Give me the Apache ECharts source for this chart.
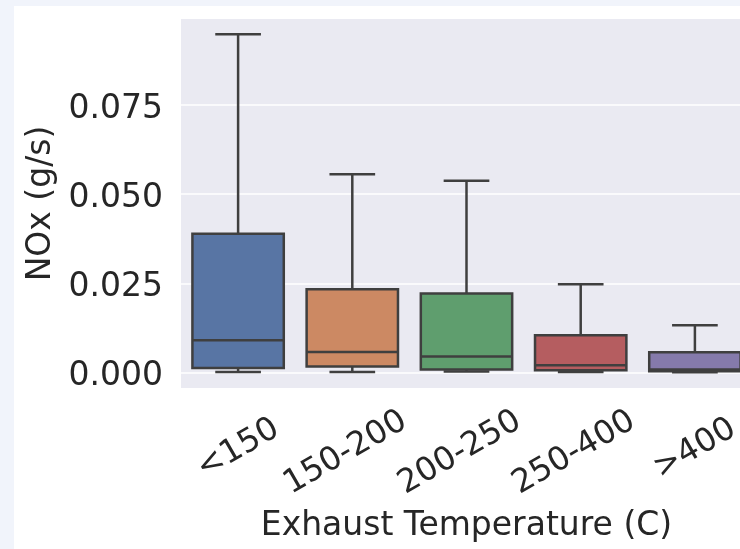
<!DOCTYPE html>
<html>
<head>
<meta charset="utf-8">
<script src="https://cdn.jsdelivr.net/npm/echarts@6/dist/echarts.min.js"></script>
<style>
  html, body { margin: 0; padding: 0; width: 740px; height: 549px; overflow: hidden; background: #F1F4FB; }
  #panel { position: absolute; left: 14px; top: 6px; right: 0; bottom: 0; background: #ffffff; }
  #chart { position: absolute; left: 0; top: 0; width: 740px; height: 549px; }
</style>
</head>
<body>
<div id="panel"></div>
<div id="chart"></div>
<script>
// ---- data ----
const categories = ['<150', '150-200', '200-250', '250-400', '>400'];
const whiskerLow = [0.0002, 0.0002, 0.0003, 0.0002, 0.0001];
const q1Values = [0.0013, 0.0017, 0.0009, 0.0007, 0.0004];
const medianValues = [0.0091, 0.0058, 0.0045, 0.0021, 0.0009];
const q3Values = [0.0389, 0.0234, 0.0222, 0.0105, 0.0057];
const whiskerHigh = [0.0948, 0.0556, 0.0538, 0.0248, 0.0133];
const boxColors = ['#5875A4', '#CC8963', '#5F9E6E', '#B55D60', '#857AAB'];
const yTicks = [0, 0.025, 0.05, 0.075];

const textColor = '#262626';
const edgeColor = '#3F3F3F';
const font = 'DejaVu Sans';

// plot range (value at bottom / top of the grey panel)
const yMin = -0.0043, yMax = 0.0991;
// tick axis range (multiples of the tick interval)
const tMin = -0.025, tMax = 0.1, tStep = 0.025;

const longLabel = (s) => s.length > 4;
const catData = categories.map(c => ({
  value: c,
  textStyle: Object.assign({ align: 'center', verticalAlign: 'middle' },
    longLabel(c) ? { padding: [27, 15.5, 0, 0] } : {})
}));

const seriesData = categories.map((c, i) => [i, whiskerLow[i], q1Values[i], medianValues[i], q3Values[i], whiskerHigh[i]]);

function renderBox(params, api) {
  const idx = api.value(0);
  const band = api.size([1, 0])[0];
  const bw = band * 0.8;
  const cw = band * 0.4;
  const pLow = api.coord([idx, api.value(1)]);
  const pQ1 = api.coord([idx, api.value(2)]);
  const pMed = api.coord([idx, api.value(3)]);
  const pQ3 = api.coord([idx, api.value(4)]);
  const pHigh = api.coord([idx, api.value(5)]);
  const x = pMed[0];
  const lw = 2.5;
  const lineStyle = { stroke: edgeColor, lineWidth: lw };
  return {
    type: 'group',
    children: [
      { type: 'line', shape: { x1: x, y1: pQ1[1], x2: x, y2: pLow[1] }, style: lineStyle },
      { type: 'line', shape: { x1: x - cw / 2, y1: pLow[1], x2: x + cw / 2, y2: pLow[1] }, style: lineStyle },
      { type: 'line', shape: { x1: x, y1: pQ3[1], x2: x, y2: pHigh[1] }, style: lineStyle },
      { type: 'line', shape: { x1: x - cw / 2, y1: pHigh[1], x2: x + cw / 2, y2: pHigh[1] }, style: lineStyle },
      { type: 'rect', shape: { x: x - bw / 2, y: pQ3[1], width: bw, height: pQ1[1] - pQ3[1] },
        style: { fill: boxColors[idx], stroke: edgeColor, lineWidth: lw } },
      { type: 'line', shape: { x1: x - bw / 2, y1: pMed[1], x2: x + bw / 2, y2: pMed[1] }, style: lineStyle }
    ]
  };
}

// pixel geometry of the grey panel
const gLeft = 181, gRight = -12, gTop = 19, gBottom = 161;
const plotH = 549 - gTop - gBottom;
const pxPerUnit = plotH / (yMax - yMin);
const tTop = gTop - (tMax - yMax) * pxPerUnit;
const tBottom = gBottom - (yMin - tMin) * pxPerUnit;

const chart = echarts.init(document.getElementById('chart'), null, { renderer: 'canvas' });
chart.setOption({
  backgroundColor: 'transparent',
  animation: false,
  textStyle: { fontFamily: font },
  grid: [
    { left: gLeft, top: gTop, right: gRight, bottom: gBottom, outerBoundsMode: 'none', containLabel: false,
      show: true, backgroundColor: '#EAEAF2', borderWidth: 0 },
    { left: gLeft, top: tTop, right: gRight, bottom: tBottom, outerBoundsMode: 'none', containLabel: false,
      show: false }
  ],
  xAxis: [{
    type: 'category',
    gridIndex: 0,
    data: catData,
    boundaryGap: true,
    axisLine: { show: false },
    axisTick: { show: false },
    splitLine: { show: false },
    axisLabel: {
      interval: 0,
      rotate: 30,
      align: 'center',
      verticalAlign: 'middle',
      margin: 61,
      fontSize: 32.5,
      color: textColor,
      fontFamily: font,
      hideOverlap: false
    },
    name: 'Exhaust Temperature (C)',
    nameLocation: 'middle',
    nameGap: 138,
    nameTextStyle: { fontSize: 33, color: textColor, fontFamily: font, verticalAlign: 'middle' }
  }, {
    type: 'category',
    gridIndex: 1,
    data: categories,
    show: false
  }],
  yAxis: [{
    type: 'value',
    gridIndex: 0,
    min: yMin,
    max: yMax,
    axisLine: { show: false },
    axisTick: { show: false },
    splitLine: { show: false },
    axisLabel: { show: false },
    name: 'NOx (g/s)',
    nameLocation: 'middle',
    nameGap: 140,
    nameTextStyle: { fontSize: 33, color: textColor, fontFamily: font, verticalAlign: 'middle' }
  }, {
    type: 'value',
    gridIndex: 1,
    min: tMin,
    max: tMax,
    interval: tStep,
    axisLine: { show: false },
    axisTick: { show: false },
    splitLine: { show: true, showMinLine: false, showMaxLine: false, lineStyle: { color: '#FFFFFF', width: 1.6 } },
    axisLabel: {
      margin: 18,
      fontSize: 33,
      color: textColor,
      fontFamily: font,
      verticalAlign: 'middle',
      rich: {
        v: { fontSize: 33, color: textColor, fontFamily: font, padding: [8, 0, 0, 0] }
      },
      formatter: (v) => {
        const t = yTicks.find(k => Math.abs(k - v) < 1e-9);
        return t === undefined ? '' : '{v|' + t.toFixed(3) + '}';
      }
    }
  }],
  series: [{
    type: 'custom',
    xAxisIndex: 0,
    yAxisIndex: 0,
    renderItem: renderBox,
    data: seriesData,
    encode: { x: 0, y: [1, 2, 3, 4, 5] },
    clip: false,
    z: 5
  }]
});
</script>
</body>
</html>
